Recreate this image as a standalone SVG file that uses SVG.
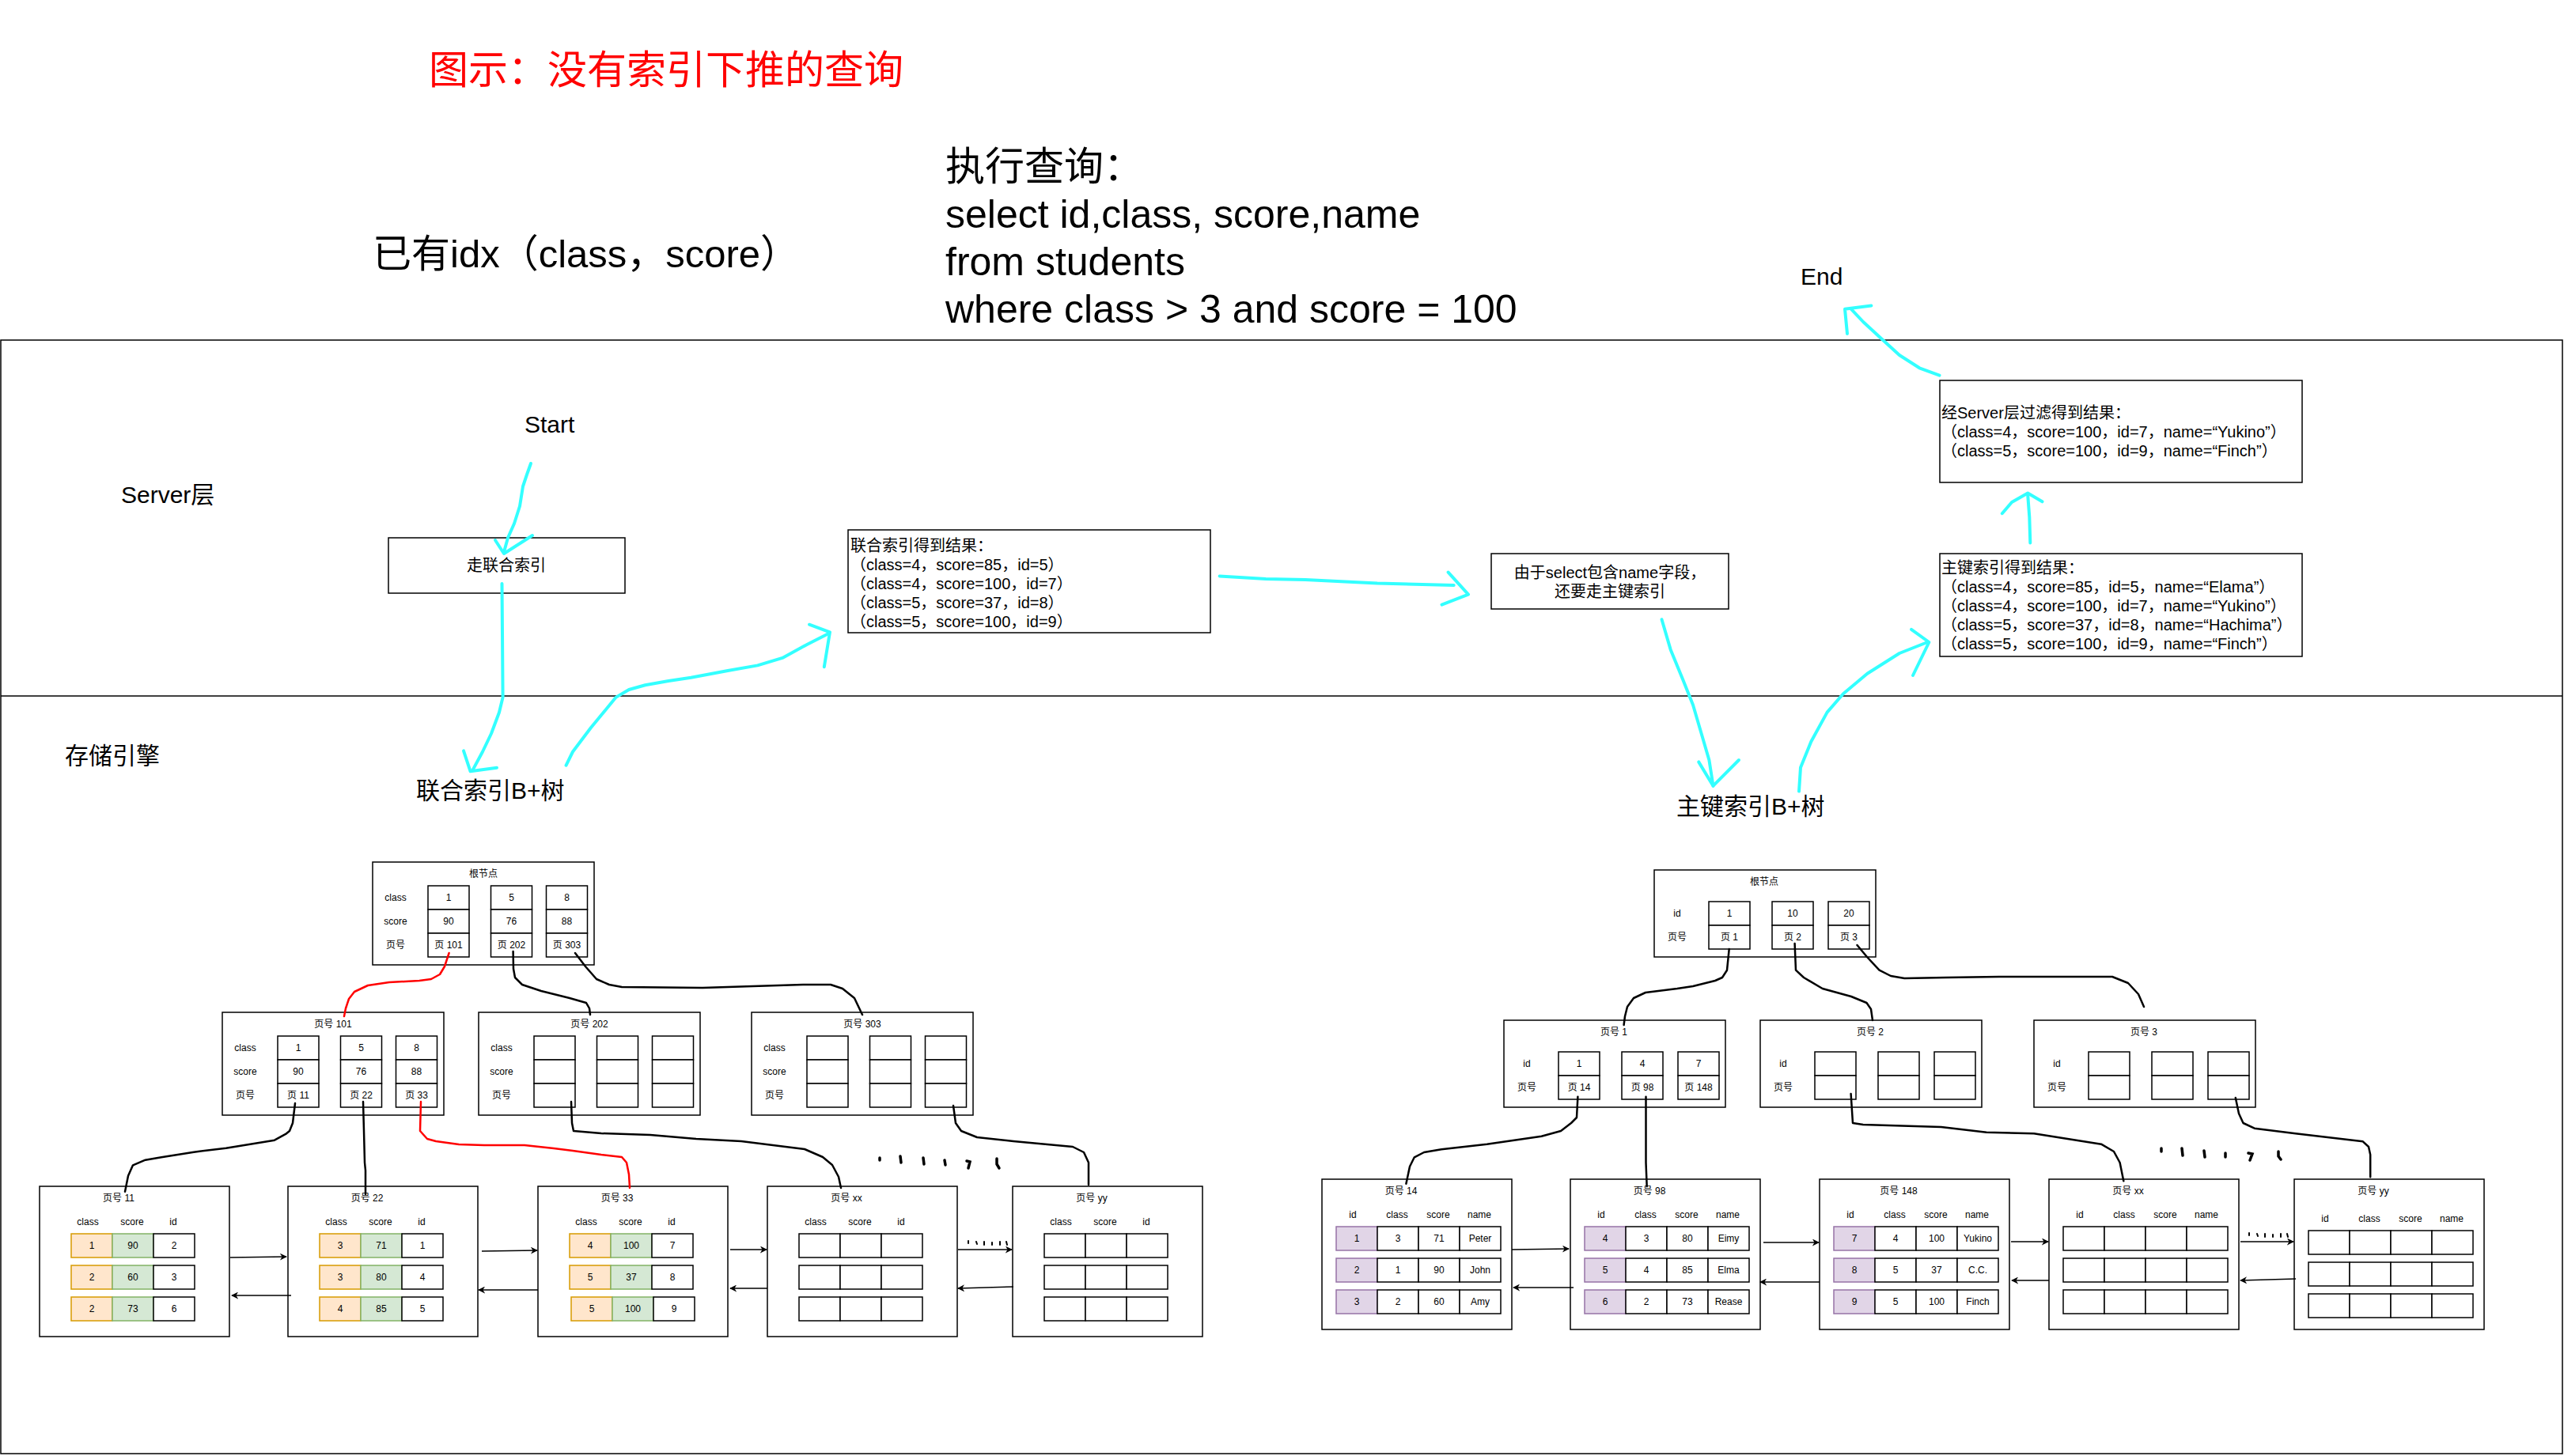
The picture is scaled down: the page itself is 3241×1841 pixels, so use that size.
<svg xmlns="http://www.w3.org/2000/svg" width="3241" height="1841" viewBox="0 0 3241 1841">
<style>
.t{font-family:"Liberation Sans","Noto Sans CJK SC",sans-serif;fill:#000}
.m{text-anchor:middle}
.s12{font-size:12px}
.s20{font-size:20px}
.s30{font-size:30px}
.b{fill:#fff;stroke:#000;stroke-width:1.5}
.c{fill:#fff;stroke:#000;stroke-width:1.5}
.oc{fill:#ffe6cc;stroke:#d79b00;stroke-width:1.5}
.gc{fill:#d5e8d4;stroke:#82b366;stroke-width:1.5}
.pc{fill:#e1d5e7;stroke:#9673a6;stroke-width:1.5}
.cy{fill:none;stroke:#33ffff;stroke-width:4;stroke-linecap:round;stroke-linejoin:round}
.bk{fill:none;stroke:#000;stroke-width:2.5;stroke-linecap:round;stroke-linejoin:round}
.rd{fill:none;stroke:#ff0000;stroke-width:2.5;stroke-linecap:round;stroke-linejoin:round}
.ar{fill:none;stroke:#000;stroke-width:1.5;marker-end:url(#ah)}
.dt{fill:none;stroke:#000;stroke-width:3.5;stroke-linecap:round}
</style>
<defs>
<marker id="ah" viewBox="0 0 10 10" refX="9" refY="5" markerWidth="9" markerHeight="9" markerUnits="userSpaceOnUse" orient="auto">
<path d="M0,0 L10,5 L0,10 L3,5 z" fill="#000"/>
</marker>
</defs>
<rect x="0" y="0" width="3241" height="1841" fill="#fff"/>

<g id="headings">
<text class="t" x="542" y="106" font-size="50" fill="#ff0000" style="fill:#ff0000">图示：没有索引下推的查询</text>
<text class="t" x="471" y="338" font-size="49">已有idx（class，score）</text>
<text class="t" x="1195" y="228" font-size="50">执行查询：</text>
<text class="t" x="1195" y="288" font-size="50">select id,class, score,name</text>
<text class="t" x="1195" y="348" font-size="50">from students</text>
<text class="t" x="1195" y="408" font-size="50">where class &gt; 3 and score = 100</text>
</g>

<g id="layers">
<rect x="1" y="430" width="3238" height="1408" fill="none" stroke="#000" stroke-width="1.5"/>
<line x1="1" y1="880" x2="3239" y2="880" stroke="#000" stroke-width="1.5"/>
<text class="t s30" x="153" y="636">Server层</text>
<text class="t s30" x="82" y="966">存储引擎</text>
</g>

<g id="labels">
<text class="t s30" x="663" y="547">Start</text>
<text class="t s30" x="2276" y="360">End</text>
<text class="t s30" x="526" y="1010">联合索引B+树</text>
<text class="t s30" x="2119" y="1030">主键索引B+树</text>
</g>

<g id="step-walk-index">
<rect class="b" x="491" y="680" width="299" height="70"/>
<text class="t s20 m" x="640" y="722">走联合索引</text>
</g>
<g id="step-index-result">
<rect class="b" x="1072" y="670" width="458" height="130"/>
<text class="t s20" x="1075" y="697">联合索引得到结果：</text>
<text class="t s20" x="1075" y="721">（class=4，score=85，id=5）</text>
<text class="t s20" x="1075" y="745">（class=4，score=100，id=7）</text>
<text class="t s20" x="1075" y="769">（class=5，score=37，id=8）</text>
<text class="t s20" x="1075" y="793">（class=5，score=100，id=9）</text>
</g>
<g id="step-pk">
<rect class="b" x="1885" y="700" width="300" height="70"/>
<text class="t s20 m" x="2035" y="731">由于select包含name字段，</text>
<text class="t s20 m" x="2035" y="755">还要走主键索引</text>
</g>
<g id="step-pk-result">
<rect class="b" x="2452" y="700" width="458" height="130"/>
<text class="t s20" x="2454" y="725">主键索引得到结果：</text>
<text class="t s20" x="2454" y="749">（class=4，score=85，id=5，name=“Elama”）</text>
<text class="t s20" x="2454" y="773">（class=4，score=100，id=7，name=“Yukino”）</text>
<text class="t s20" x="2454" y="797">（class=5，score=37，id=8，name=“Hachima”）</text>
<text class="t s20" x="2454" y="821">（class=5，score=100，id=9，name=“Finch”）</text>
</g>
<g id="step-filter">
<rect class="b" x="2452" y="481" width="458" height="129"/>
<text class="t s20" x="2454" y="529">经Server层过滤得到结果：</text>
<text class="t s20" x="2454" y="553">（class=4，score=100，id=7，name=“Yukino”）</text>
<text class="t s20" x="2454" y="577">（class=5，score=100，id=9，name=“Finch”）</text>
</g>

<!-- left tree -->
<g id="l-root">
<rect class="b" x="471" y="1090" width="280" height="130"/>
<text class="t s12 m" x="611" y="1109">根节点</text>
<text class="t s12 m" x="500" y="1139">class</text><text class="t s12 m" x="500" y="1169">score</text><text class="t s12 m" x="500" y="1199">页号</text>
<rect class="c" x="541" y="1120" width="52" height="30"/><rect class="c" x="541" y="1150" width="52" height="30"/><rect class="c" x="541" y="1180" width="52" height="30"/>
<rect class="c" x="620.5" y="1120" width="52" height="30"/><rect class="c" x="620.5" y="1150" width="52" height="30"/><rect class="c" x="620.5" y="1180" width="52" height="30"/>
<rect class="c" x="690.5" y="1120" width="52" height="30"/><rect class="c" x="690.5" y="1150" width="52" height="30"/><rect class="c" x="690.5" y="1180" width="52" height="30"/>
<text class="t s12 m" x="567" y="1139">1</text><text class="t s12 m" x="567" y="1169">90</text><text class="t s12 m" x="567" y="1199">页 101</text>
<text class="t s12 m" x="646.5" y="1139">5</text><text class="t s12 m" x="646.5" y="1169">76</text><text class="t s12 m" x="646.5" y="1199">页 202</text>
<text class="t s12 m" x="716.5" y="1139">8</text><text class="t s12 m" x="716.5" y="1169">88</text><text class="t s12 m" x="716.5" y="1199">页 303</text>
</g>
<g id="l-p101">
<rect class="b" x="281" y="1280" width="280" height="130"/>
<text class="t s12 m" x="421" y="1299">页号 101</text>
<text class="t s12 m" x="310" y="1329">class</text><text class="t s12 m" x="310" y="1359">score</text><text class="t s12 m" x="310" y="1389">页号</text>
<rect class="c" x="351" y="1310" width="52" height="30"/><rect class="c" x="351" y="1340" width="52" height="30"/><rect class="c" x="351" y="1370" width="52" height="30"/>
<rect class="c" x="430.5" y="1310" width="52" height="30"/><rect class="c" x="430.5" y="1340" width="52" height="30"/><rect class="c" x="430.5" y="1370" width="52" height="30"/>
<rect class="c" x="500.5" y="1310" width="52" height="30"/><rect class="c" x="500.5" y="1340" width="52" height="30"/><rect class="c" x="500.5" y="1370" width="52" height="30"/>
<text class="t s12 m" x="377" y="1329">1</text><text class="t s12 m" x="377" y="1359">90</text><text class="t s12 m" x="377" y="1389">页 11</text>
<text class="t s12 m" x="456.5" y="1329">5</text><text class="t s12 m" x="456.5" y="1359">76</text><text class="t s12 m" x="456.5" y="1389">页 22</text>
<text class="t s12 m" x="526.5" y="1329">8</text><text class="t s12 m" x="526.5" y="1359">88</text><text class="t s12 m" x="526.5" y="1389">页 33</text>
</g>
<g id="l-p202">
<rect class="b" x="605" y="1280" width="280" height="130"/>
<text class="t s12 m" x="745" y="1299">页号 202</text>
<text class="t s12 m" x="634" y="1329">class</text><text class="t s12 m" x="634" y="1359">score</text><text class="t s12 m" x="634" y="1389">页号</text>
<rect class="c" x="675" y="1310" width="52" height="30"/><rect class="c" x="675" y="1340" width="52" height="30"/><rect class="c" x="675" y="1370" width="52" height="30"/>
<rect class="c" x="754.5" y="1310" width="52" height="30"/><rect class="c" x="754.5" y="1340" width="52" height="30"/><rect class="c" x="754.5" y="1370" width="52" height="30"/>
<rect class="c" x="824.5" y="1310" width="52" height="30"/><rect class="c" x="824.5" y="1340" width="52" height="30"/><rect class="c" x="824.5" y="1370" width="52" height="30"/>
</g>
<g id="l-p303">
<rect class="b" x="950" y="1280" width="280" height="130"/>
<text class="t s12 m" x="1090" y="1299">页号 303</text>
<text class="t s12 m" x="979" y="1329">class</text><text class="t s12 m" x="979" y="1359">score</text><text class="t s12 m" x="979" y="1389">页号</text>
<rect class="c" x="1020" y="1310" width="52" height="30"/><rect class="c" x="1020" y="1340" width="52" height="30"/><rect class="c" x="1020" y="1370" width="52" height="30"/>
<rect class="c" x="1099.5" y="1310" width="52" height="30"/><rect class="c" x="1099.5" y="1340" width="52" height="30"/><rect class="c" x="1099.5" y="1370" width="52" height="30"/>
<rect class="c" x="1169.5" y="1310" width="52" height="30"/><rect class="c" x="1169.5" y="1340" width="52" height="30"/><rect class="c" x="1169.5" y="1370" width="52" height="30"/>
</g>

<g id="l-leaf11">
<rect class="b" x="50" y="1500" width="240" height="190"/>
<text class="t s12 m" x="150" y="1519">页号 11</text>
<text class="t s12 m" x="111" y="1549">class</text><text class="t s12 m" x="167" y="1549">score</text><text class="t s12 m" x="219" y="1549">id</text>
<rect class="oc" x="90" y="1560" width="52" height="30"/><rect class="gc" x="142" y="1560" width="52" height="30"/><rect class="c" x="194" y="1560" width="52" height="30"/>
<rect class="oc" x="90" y="1600" width="52" height="30"/><rect class="gc" x="142" y="1600" width="52" height="30"/><rect class="c" x="194" y="1600" width="52" height="30"/>
<rect class="oc" x="90" y="1640" width="52" height="30"/><rect class="gc" x="142" y="1640" width="52" height="30"/><rect class="c" x="194" y="1640" width="52" height="30"/>
<text class="t s12 m" x="116" y="1579">1</text><text class="t s12 m" x="168" y="1579">90</text><text class="t s12 m" x="220" y="1579">2</text>
<text class="t s12 m" x="116" y="1619">2</text><text class="t s12 m" x="168" y="1619">60</text><text class="t s12 m" x="220" y="1619">3</text>
<text class="t s12 m" x="116" y="1659">2</text><text class="t s12 m" x="168" y="1659">73</text><text class="t s12 m" x="220" y="1659">6</text>
</g>
<g id="l-leaf22">
<rect class="b" x="364" y="1500" width="240" height="190"/>
<text class="t s12 m" x="464" y="1519">页号 22</text>
<text class="t s12 m" x="425" y="1549">class</text><text class="t s12 m" x="481" y="1549">score</text><text class="t s12 m" x="533" y="1549">id</text>
<rect class="oc" x="404" y="1560" width="52" height="30"/><rect class="gc" x="456" y="1560" width="52" height="30"/><rect class="c" x="508" y="1560" width="52" height="30"/>
<rect class="oc" x="404" y="1600" width="52" height="30"/><rect class="gc" x="456" y="1600" width="52" height="30"/><rect class="c" x="508" y="1600" width="52" height="30"/>
<rect class="oc" x="404" y="1640" width="52" height="30"/><rect class="gc" x="456" y="1640" width="52" height="30"/><rect class="c" x="508" y="1640" width="52" height="30"/>
<text class="t s12 m" x="430" y="1579">3</text><text class="t s12 m" x="482" y="1579">71</text><text class="t s12 m" x="534" y="1579">1</text>
<text class="t s12 m" x="430" y="1619">3</text><text class="t s12 m" x="482" y="1619">80</text><text class="t s12 m" x="534" y="1619">4</text>
<text class="t s12 m" x="430" y="1659">4</text><text class="t s12 m" x="482" y="1659">85</text><text class="t s12 m" x="534" y="1659">5</text>
</g>
<g id="l-leaf33">
<rect class="b" x="680" y="1500" width="240" height="190"/>
<text class="t s12 m" x="780" y="1519">页号 33</text>
<text class="t s12 m" x="741" y="1549">class</text><text class="t s12 m" x="797" y="1549">score</text><text class="t s12 m" x="849" y="1549">id</text>
<rect class="oc" x="720" y="1560" width="52" height="30"/><rect class="gc" x="772" y="1560" width="52" height="30"/><rect class="c" x="824" y="1560" width="52" height="30"/>
<rect class="oc" x="720" y="1600" width="52" height="30"/><rect class="gc" x="772" y="1600" width="52" height="30"/><rect class="c" x="824" y="1600" width="52" height="30"/>
<rect class="oc" x="722" y="1640" width="52" height="30"/><rect class="gc" x="774" y="1640" width="52" height="30"/><rect class="c" x="826" y="1640" width="52" height="30"/>
<text class="t s12 m" x="746" y="1579">4</text><text class="t s12 m" x="798" y="1579">100</text><text class="t s12 m" x="850" y="1579">7</text>
<text class="t s12 m" x="746" y="1619">5</text><text class="t s12 m" x="798" y="1619">37</text><text class="t s12 m" x="850" y="1619">8</text>
<text class="t s12 m" x="748" y="1659">5</text><text class="t s12 m" x="800" y="1659">100</text><text class="t s12 m" x="852" y="1659">9</text>
</g>
<g id="l-leafxx">
<rect class="b" x="970" y="1500" width="240" height="190"/>
<text class="t s12 m" x="1070" y="1519">页号 xx</text>
<text class="t s12 m" x="1031" y="1549">class</text><text class="t s12 m" x="1087" y="1549">score</text><text class="t s12 m" x="1139" y="1549">id</text>
<rect class="c" x="1010" y="1560" width="52" height="30"/><rect class="c" x="1062" y="1560" width="52" height="30"/><rect class="c" x="1114" y="1560" width="52" height="30"/>
<rect class="c" x="1010" y="1600" width="52" height="30"/><rect class="c" x="1062" y="1600" width="52" height="30"/><rect class="c" x="1114" y="1600" width="52" height="30"/>
<rect class="c" x="1010" y="1640" width="52" height="30"/><rect class="c" x="1062" y="1640" width="52" height="30"/><rect class="c" x="1114" y="1640" width="52" height="30"/>
</g>
<g id="l-leafyy">
<rect class="b" x="1280" y="1500" width="240" height="190"/>
<text class="t s12 m" x="1380" y="1519">页号 yy</text>
<text class="t s12 m" x="1341" y="1549">class</text><text class="t s12 m" x="1397" y="1549">score</text><text class="t s12 m" x="1449" y="1549">id</text>
<rect class="c" x="1320" y="1560" width="52" height="30"/><rect class="c" x="1372" y="1560" width="52" height="30"/><rect class="c" x="1424" y="1560" width="52" height="30"/>
<rect class="c" x="1320" y="1600" width="52" height="30"/><rect class="c" x="1372" y="1600" width="52" height="30"/><rect class="c" x="1424" y="1600" width="52" height="30"/>
<rect class="c" x="1320" y="1640" width="52" height="30"/><rect class="c" x="1372" y="1640" width="52" height="30"/><rect class="c" x="1424" y="1640" width="52" height="30"/>
</g>

<!-- right tree -->
<g id="r-root">
<rect class="b" x="2091" y="1100" width="280" height="110"/>
<text class="t s12 m" x="2230" y="1119">根节点</text>
<text class="t s12 m" x="2120" y="1159">id</text><text class="t s12 m" x="2120" y="1189">页号</text>
<rect class="c" x="2160" y="1140" width="52" height="30"/><rect class="c" x="2160" y="1170" width="52" height="30"/>
<rect class="c" x="2240" y="1140" width="52" height="30"/><rect class="c" x="2240" y="1170" width="52" height="30"/>
<rect class="c" x="2311" y="1140" width="52" height="30"/><rect class="c" x="2311" y="1170" width="52" height="30"/>
<text class="t s12 m" x="2186" y="1159">1</text><text class="t s12 m" x="2186" y="1189">页 1</text>
<text class="t s12 m" x="2266" y="1159">10</text><text class="t s12 m" x="2266" y="1189">页 2</text>
<text class="t s12 m" x="2337" y="1159">20</text><text class="t s12 m" x="2337" y="1189">页 3</text>
</g>
<g id="r-p1">
<rect class="b" x="1901" y="1290" width="280" height="110"/>
<text class="t s12 m" x="2040" y="1309">页号 1</text>
<text class="t s12 m" x="1930" y="1349">id</text><text class="t s12 m" x="1930" y="1379">页号</text>
<rect class="c" x="1970" y="1330" width="52" height="30"/><rect class="c" x="1970" y="1360" width="52" height="30"/>
<rect class="c" x="2050" y="1330" width="52" height="30"/><rect class="c" x="2050" y="1360" width="52" height="30"/>
<rect class="c" x="2121" y="1330" width="52" height="30"/><rect class="c" x="2121" y="1360" width="52" height="30"/>
<text class="t s12 m" x="1996" y="1349">1</text><text class="t s12 m" x="1996" y="1379">页 14</text>
<text class="t s12 m" x="2076" y="1349">4</text><text class="t s12 m" x="2076" y="1379">页 98</text>
<text class="t s12 m" x="2147" y="1349">7</text><text class="t s12 m" x="2147" y="1379">页 148</text>
</g>
<g id="r-p2">
<rect class="b" x="2225" y="1290" width="280" height="110"/>
<text class="t s12 m" x="2364" y="1309">页号 2</text>
<text class="t s12 m" x="2254" y="1349">id</text><text class="t s12 m" x="2254" y="1379">页号</text>
<rect class="c" x="2294" y="1330" width="52" height="30"/><rect class="c" x="2294" y="1360" width="52" height="30"/>
<rect class="c" x="2374" y="1330" width="52" height="30"/><rect class="c" x="2374" y="1360" width="52" height="30"/>
<rect class="c" x="2445" y="1330" width="52" height="30"/><rect class="c" x="2445" y="1360" width="52" height="30"/>
</g>
<g id="r-p3">
<rect class="b" x="2571" y="1290" width="280" height="110"/>
<text class="t s12 m" x="2710" y="1309">页号 3</text>
<text class="t s12 m" x="2600" y="1349">id</text><text class="t s12 m" x="2600" y="1379">页号</text>
<rect class="c" x="2640" y="1330" width="52" height="30"/><rect class="c" x="2640" y="1360" width="52" height="30"/>
<rect class="c" x="2720" y="1330" width="52" height="30"/><rect class="c" x="2720" y="1360" width="52" height="30"/>
<rect class="c" x="2791" y="1330" width="52" height="30"/><rect class="c" x="2791" y="1360" width="52" height="30"/>
</g>

<g id="r-leaf14">
<rect class="b" x="1671" y="1491" width="240" height="190"/>
<text class="t s12 m" x="1771" y="1510">页号 14</text>
<text class="t s12 m" x="1710" y="1540">id</text><text class="t s12 m" x="1766" y="1540">class</text><text class="t s12 m" x="1818" y="1540">score</text><text class="t s12 m" x="1870" y="1540">name</text>
<rect class="pc" x="1689" y="1551" width="52" height="30"/><rect class="c" x="1741" y="1551" width="52" height="30"/><rect class="c" x="1793" y="1551" width="52" height="30"/><rect class="c" x="1845" y="1551" width="52" height="30"/>
<rect class="pc" x="1689" y="1591" width="52" height="30"/><rect class="c" x="1741" y="1591" width="52" height="30"/><rect class="c" x="1793" y="1591" width="52" height="30"/><rect class="c" x="1845" y="1591" width="52" height="30"/>
<rect class="pc" x="1689" y="1631" width="52" height="30"/><rect class="c" x="1741" y="1631" width="52" height="30"/><rect class="c" x="1793" y="1631" width="52" height="30"/><rect class="c" x="1845" y="1631" width="52" height="30"/>
<text class="t s12 m" x="1715" y="1570">1</text><text class="t s12 m" x="1767" y="1570">3</text><text class="t s12 m" x="1819" y="1570">71</text><text class="t s12 m" x="1871" y="1570">Peter</text>
<text class="t s12 m" x="1715" y="1610">2</text><text class="t s12 m" x="1767" y="1610">1</text><text class="t s12 m" x="1819" y="1610">90</text><text class="t s12 m" x="1871" y="1610">John</text>
<text class="t s12 m" x="1715" y="1650">3</text><text class="t s12 m" x="1767" y="1650">2</text><text class="t s12 m" x="1819" y="1650">60</text><text class="t s12 m" x="1871" y="1650">Amy</text>
</g>
<g id="r-leaf98">
<rect class="b" x="1985" y="1491" width="240" height="190"/>
<text class="t s12 m" x="2085" y="1510">页号 98</text>
<text class="t s12 m" x="2024" y="1540">id</text><text class="t s12 m" x="2080" y="1540">class</text><text class="t s12 m" x="2132" y="1540">score</text><text class="t s12 m" x="2184" y="1540">name</text>
<rect class="pc" x="2003" y="1551" width="52" height="30"/><rect class="c" x="2055" y="1551" width="52" height="30"/><rect class="c" x="2107" y="1551" width="52" height="30"/><rect class="c" x="2159" y="1551" width="52" height="30"/>
<rect class="pc" x="2003" y="1591" width="52" height="30"/><rect class="c" x="2055" y="1591" width="52" height="30"/><rect class="c" x="2107" y="1591" width="52" height="30"/><rect class="c" x="2159" y="1591" width="52" height="30"/>
<rect class="pc" x="2003" y="1631" width="52" height="30"/><rect class="c" x="2055" y="1631" width="52" height="30"/><rect class="c" x="2107" y="1631" width="52" height="30"/><rect class="c" x="2159" y="1631" width="52" height="30"/>
<text class="t s12 m" x="2029" y="1570">4</text><text class="t s12 m" x="2081" y="1570">3</text><text class="t s12 m" x="2133" y="1570">80</text><text class="t s12 m" x="2185" y="1570">Eimy</text>
<text class="t s12 m" x="2029" y="1610">5</text><text class="t s12 m" x="2081" y="1610">4</text><text class="t s12 m" x="2133" y="1610">85</text><text class="t s12 m" x="2185" y="1610">Elma</text>
<text class="t s12 m" x="2029" y="1650">6</text><text class="t s12 m" x="2081" y="1650">2</text><text class="t s12 m" x="2133" y="1650">73</text><text class="t s12 m" x="2185" y="1650">Rease</text>
</g>
<g id="r-leaf148">
<rect class="b" x="2300" y="1491" width="240" height="190"/>
<text class="t s12 m" x="2400" y="1510">页号 148</text>
<text class="t s12 m" x="2339" y="1540">id</text><text class="t s12 m" x="2395" y="1540">class</text><text class="t s12 m" x="2447" y="1540">score</text><text class="t s12 m" x="2499" y="1540">name</text>
<rect class="pc" x="2318" y="1551" width="52" height="30"/><rect class="c" x="2370" y="1551" width="52" height="30"/><rect class="c" x="2422" y="1551" width="52" height="30"/><rect class="c" x="2474" y="1551" width="52" height="30"/>
<rect class="pc" x="2318" y="1591" width="52" height="30"/><rect class="c" x="2370" y="1591" width="52" height="30"/><rect class="c" x="2422" y="1591" width="52" height="30"/><rect class="c" x="2474" y="1591" width="52" height="30"/>
<rect class="pc" x="2318" y="1631" width="52" height="30"/><rect class="c" x="2370" y="1631" width="52" height="30"/><rect class="c" x="2422" y="1631" width="52" height="30"/><rect class="c" x="2474" y="1631" width="52" height="30"/>
<text class="t s12 m" x="2344" y="1570">7</text><text class="t s12 m" x="2396" y="1570">4</text><text class="t s12 m" x="2448" y="1570">100</text><text class="t s12 m" x="2500" y="1570">Yukino</text>
<text class="t s12 m" x="2344" y="1610">8</text><text class="t s12 m" x="2396" y="1610">5</text><text class="t s12 m" x="2448" y="1610">37</text><text class="t s12 m" x="2500" y="1610">C.C.</text>
<text class="t s12 m" x="2344" y="1650">9</text><text class="t s12 m" x="2396" y="1650">5</text><text class="t s12 m" x="2448" y="1650">100</text><text class="t s12 m" x="2500" y="1650">Finch</text>
</g>
<g id="r-leafxx">
<rect class="b" x="2590" y="1491" width="240" height="190"/>
<text class="t s12 m" x="2690" y="1510">页号 xx</text>
<text class="t s12 m" x="2629" y="1540">id</text><text class="t s12 m" x="2685" y="1540">class</text><text class="t s12 m" x="2737" y="1540">score</text><text class="t s12 m" x="2789" y="1540">name</text>
<rect class="c" x="2608" y="1551" width="52" height="30"/><rect class="c" x="2660" y="1551" width="52" height="30"/><rect class="c" x="2712" y="1551" width="52" height="30"/><rect class="c" x="2764" y="1551" width="52" height="30"/>
<rect class="c" x="2608" y="1591" width="52" height="30"/><rect class="c" x="2660" y="1591" width="52" height="30"/><rect class="c" x="2712" y="1591" width="52" height="30"/><rect class="c" x="2764" y="1591" width="52" height="30"/>
<rect class="c" x="2608" y="1631" width="52" height="30"/><rect class="c" x="2660" y="1631" width="52" height="30"/><rect class="c" x="2712" y="1631" width="52" height="30"/><rect class="c" x="2764" y="1631" width="52" height="30"/>
</g>
<g id="r-leafyy">
<rect class="b" x="2900" y="1491" width="240" height="190"/>
<text class="t s12 m" x="3000" y="1510">页号 yy</text>
<text class="t s12 m" x="2939" y="1545">id</text><text class="t s12 m" x="2995" y="1545">class</text><text class="t s12 m" x="3047" y="1545">score</text><text class="t s12 m" x="3099" y="1545">name</text>
<rect class="c" x="2918" y="1556" width="52" height="30"/><rect class="c" x="2970" y="1556" width="52" height="30"/><rect class="c" x="3022" y="1556" width="52" height="30"/><rect class="c" x="3074" y="1556" width="52" height="30"/>
<rect class="c" x="2918" y="1596" width="52" height="30"/><rect class="c" x="2970" y="1596" width="52" height="30"/><rect class="c" x="3022" y="1596" width="52" height="30"/><rect class="c" x="3074" y="1596" width="52" height="30"/>
<rect class="c" x="2918" y="1636" width="52" height="30"/><rect class="c" x="2970" y="1636" width="52" height="30"/><rect class="c" x="3022" y="1636" width="52" height="30"/><rect class="c" x="3074" y="1636" width="52" height="30"/>
</g>

<g id="connectors">
<!-- cyan flow arrows -->
<path class="cy" d="M671,586 L666,600 L661,615 L657,640 L650,662 L642,680 L637,698"/>
<path class="cy" d="M626,683 L637,700 L673,677"/>
<path class="cy" d="M634.5,738 L635,800 L635.6,881.6 L631,900.7 L621,927.5 L610,950.5 L597.7,973.4"/>
<path class="cy" d="M586,949.3 L594.6,975.3 L628,970.8"/>
<path class="cy" d="M715.6,967.7 L724,950.5 L747,920 L778.7,881.6 L795,872 L815.5,866.3 L845,861 L873.4,856.7 L920,848 L957.6,841.4 L989,831.9 L1020,815 L1047,801.2"/>
<path class="cy" d="M1023,789.7 L1049,799.3 L1041.8,843.3"/>
<path class="cy" d="M1541.6,728.5 L1600,732 L1650,733 L1741,737.6 L1837.7,740"/>
<path class="cy" d="M1830.6,723.6 L1856,751.6 L1822.5,764.6"/>
<path class="cy" d="M2100.5,783.2 L2111.7,821.4 L2127,858.7 L2140,891.3 L2152.3,933.2 L2160.4,961 L2165.5,993.7"/>
<path class="cy" d="M2147.2,963.4 L2165.5,993.7 L2198,961"/>
<path class="cy" d="M2274,1000.6 L2276,970.4 L2289.3,937.8 L2309.6,900.6 L2329.9,877.3 L2360.3,851.7 L2401,826 L2436.4,812"/>
<path class="cy" d="M2416,795.8 L2438.4,812 L2418,854"/>
<path class="cy" d="M2566.3,686.4 L2565.3,653.8 L2563.2,625.9"/>
<path class="cy" d="M2530.8,649.2 L2543,635 L2563.2,623.6 L2581.5,634.3"/>
<path class="cy" d="M2451.6,474.6 L2426.3,465.3 L2400.9,449 L2375.5,425.7 L2355.2,407 L2340,390.8"/>
<path class="cy" d="M2335,422 L2332,390.8 L2365.4,386.6"/>

<!-- left tree links -->
<path class="rd" d="M567.6,1205 L562,1222 L556,1232 L545,1238 L530,1240 L492,1242 L465,1246 L448,1254 L441,1263 L437,1275 L435,1285"/>
<path class="bk" d="M648.6,1203 L649,1225 L651,1236 L660,1245 L684,1253 L720,1262 L741,1268 L745,1275 L746,1283"/>
<path class="bk" d="M727,1205 L740,1222 L754,1238 L770,1245 L786,1248 L888,1249 L1015,1245 L1050,1245 L1065,1250 L1080,1262 L1090,1283"/>
<path class="bk" d="M373,1395 L370,1420 L366,1430 L362,1433.3 L347,1441.7 L285.7,1451.7 L245,1456.7 L204,1463.3 L183.7,1466.7 L168,1473.3 L162,1486.7 L158,1506.7"/>
<path class="bk" d="M459,1393 L460,1430 L461,1470 L462,1480 L462,1510"/>
<path class="rd" d="M532,1393 L531,1430 L540,1440 L551,1443 L580,1447 L612,1448 L663,1448 L700,1452 L724,1455 L760,1460 L786,1463 L792,1470 L795,1485 L796,1502"/>
<path class="bk" d="M722,1393 L723,1420 L725,1430 L760,1433 L822,1435 L880,1440 L937,1443 L1017,1453 L1040,1463 L1052,1473 L1060,1488 L1063,1502"/>
<path class="bk" d="M1205,1398 L1208,1420 L1215,1430 L1235,1438 L1281,1443 L1356,1450 L1370,1457 L1376,1470 L1376,1498"/>

<!-- right tree links -->
<path class="bk" d="M2185.7,1200 L2183,1226.7 L2177,1236 L2168,1240 L2140,1247 L2120,1250 L2080,1255 L2065,1262 L2057,1273 L2054,1285 L2052.6,1296"/>
<path class="bk" d="M2268.6,1193 L2270,1226.7 L2280,1236 L2303.7,1250 L2340,1260 L2359.5,1268 L2365,1276 L2367,1290"/>
<path class="bk" d="M2347.5,1195 L2360,1210 L2375.5,1226.7 L2390,1234 L2407.3,1237 L2460,1236 L2527,1235 L2670,1235 L2690,1243 L2703,1257 L2710,1273"/>
<path class="bk" d="M1994.4,1386.7 L1993,1413 L1986,1420 L1973,1430 L1948.5,1436.7 L1879.6,1446.7 L1822,1453.3 L1800,1457 L1787.8,1463.3 L1782,1475 L1777.4,1496.7"/>
<path class="bk" d="M2080.5,1386.7 L2080.5,1470 L2081.7,1500"/>
<path class="bk" d="M2339.6,1383 L2342,1420 L2355,1422 L2396,1423.3 L2453.7,1425 L2511,1431.7 L2571,1433.3 L2656,1446.7 L2672,1456 L2679.6,1470 L2684.3,1493.3"/>
<path class="bk" d="M2825.8,1388 L2830,1408 L2835.5,1420 L2849.7,1426.7 L2901.7,1433.3 L2986.8,1443.3 L2994,1450 L2996.2,1460 L2996.2,1488.3"/>

<!-- leaf sibling arrows left -->
<path class="ar" d="M291,1590 L362,1589"/>
<path class="ar" d="M368,1638 L293,1638"/>
<path class="ar" d="M609,1582 L679,1581"/>
<path class="ar" d="M680,1631 L605,1631"/>
<path class="ar" d="M923,1580 L969,1580"/>
<path class="ar" d="M970,1629 L923,1629"/>
<path class="ar" d="M1211,1580 L1279,1580"/>
<path class="ar" d="M1281,1627 L1211,1629"/>
<!-- leaf sibling arrows right -->
<path class="ar" d="M1911,1580 L1983,1579"/>
<path class="ar" d="M1989,1628 L1913,1628"/>
<path class="ar" d="M2229,1571 L2299,1571"/>
<path class="ar" d="M2300,1621 L2225,1621"/>
<path class="ar" d="M2542,1570 L2589,1570"/>
<path class="ar" d="M2590,1619 L2543,1619"/>
<path class="ar" d="M2832,1570 L2899,1570"/>
<path class="ar" d="M2902,1617 L2832,1619"/>

<!-- hand-drawn ellipsis marks -->
<path class="dt" d="M1112,1464 L1112,1467 M1138,1462 L1139,1470 M1167,1464 L1168,1472 M1194,1467 L1195,1473 M1222,1468 L1226,1469 L1224,1477 M1260,1465 L1260,1472 L1263,1477"/>
<path class="dt" d="M2732,1452 L2732,1456 M2758,1452 L2759,1461 M2786,1455 L2787,1463 M2813,1458 L2813,1463 M2842,1458 L2847,1459 L2844,1467 M2880,1456 L2880,1462 L2883,1466"/>
<path class="dt" style="stroke-width:2" d="M1224,1569 L1224,1572 M1234,1570 L1235,1573 M1244,1570 L1244,1574 M1254,1571 L1254,1574 M1264,1570 L1264,1574 M1272,1570 L1273,1574"/>
<path class="dt" style="stroke-width:2" d="M2843,1559 L2843,1562 M2853,1560 L2854,1563 M2863,1560 L2863,1564 M2873,1561 L2873,1564 M2883,1560 L2883,1564 M2891,1560 L2892,1564"/>
</g>
</svg>
